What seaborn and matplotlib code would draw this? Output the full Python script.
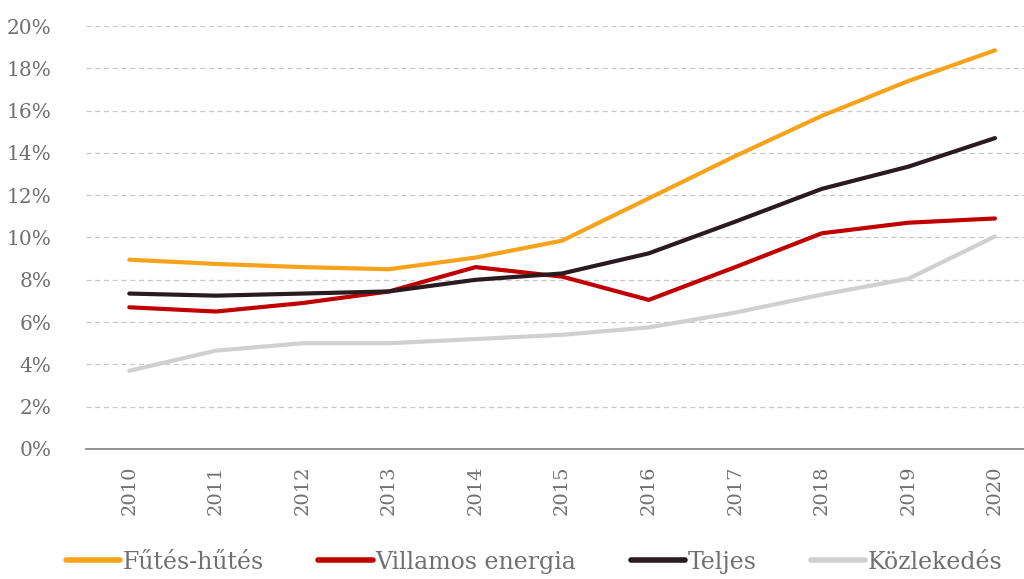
import matplotlib
matplotlib.use('Agg')
import matplotlib.pyplot as plt
import pandas as pd
import seaborn as sns

sns.set_style("white")
plt.rcParams['font.family'] = ['DejaVu Serif']

# Data (percent)
years = [2010, 2011, 2012, 2013, 2014, 2015, 2016, 2017, 2018, 2019, 2020]
futes_hutes = [8.95, 8.75, 8.6, 8.5, 9.05, 9.85, 11.85, 13.85, 15.75, 17.4, 18.85]
villamos = [6.7, 6.5, 6.9, 7.45, 8.6, 8.15, 7.05, 8.6, 10.2, 10.7, 10.9]
teljes = [7.35, 7.25, 7.35, 7.45, 8.0, 8.3, 9.25, 10.75, 12.3, 13.35, 14.7]
kozlekedes = [3.7, 4.65, 5.0, 5.0, 5.2, 5.4, 5.75, 6.45, 7.3, 8.05, 10.05]

series_names = ['Fűtés-hűtés', 'Villamos energia', 'Teljes', 'Közlekedés']
colors = ['#F7A21B', '#C00000', '#2A1A21', '#D0D0D0']

frames = []
for name, vals in zip(series_names, [futes_hutes, villamos, teljes, kozlekedes]):
    frames.append(pd.DataFrame({'idx': range(len(years)), 'value': vals, 'series': name}))
df = pd.concat(frames)

fig = plt.figure(figsize=(10.24, 5.79), dpi=100)
ax = fig.add_axes([86 / 1024, 1 - 449 / 579, (1024 - 86) / 1024, (449 - 26) / 579])

sns.lineplot(data=df, x='idx', y='value', hue='series', hue_order=series_names,
             palette=colors, linewidth=3, ax=ax, legend=True)

text_color = '#707070'
ax.set_xlim(-0.5, 10 + (1024 - 995) / 86.5)
ax.set_ylim(0, 20)
ax.set_yticks(range(0, 21, 2))
ax.set_yticklabels([f'{v}%' for v in range(0, 21, 2)], fontsize=14.5, color=text_color)
ax.set_xticks(range(len(years)))
ax.set_xticklabels([str(y) for y in years], rotation=90, fontsize=14, color=text_color)
ax.tick_params(axis='both', length=0)
ax.tick_params(axis='x', pad=12)
ax.tick_params(axis='y', pad=25)
ax.set_xlabel('')
ax.set_ylabel('')

ax.yaxis.grid(True, linestyle=(0, (4, 3)), color='#C8C8C8', linewidth=0.9)
ax.xaxis.grid(False)
for side in ['top', 'right', 'left']:
    ax.spines[side].set_visible(False)
ax.spines['bottom'].set_color('#8C8C8C')
ax.spines['bottom'].set_linewidth(1.3)

handles, labels = ax.get_legend_handles_labels()
leg = ax.legend(handles, labels, loc='lower center', bbox_to_anchor=(0.478, -0.345),
                ncol=4, frameon=False, fontsize=17, handlelength=2.3,
                handletextpad=0.12, columnspacing=2.3)
for t in leg.get_texts():
    t.set_color(text_color)
for h in leg.get_lines():
    h.set_linewidth(4)

fig.savefig('out.png', dpi=100)
plt.close(fig)
